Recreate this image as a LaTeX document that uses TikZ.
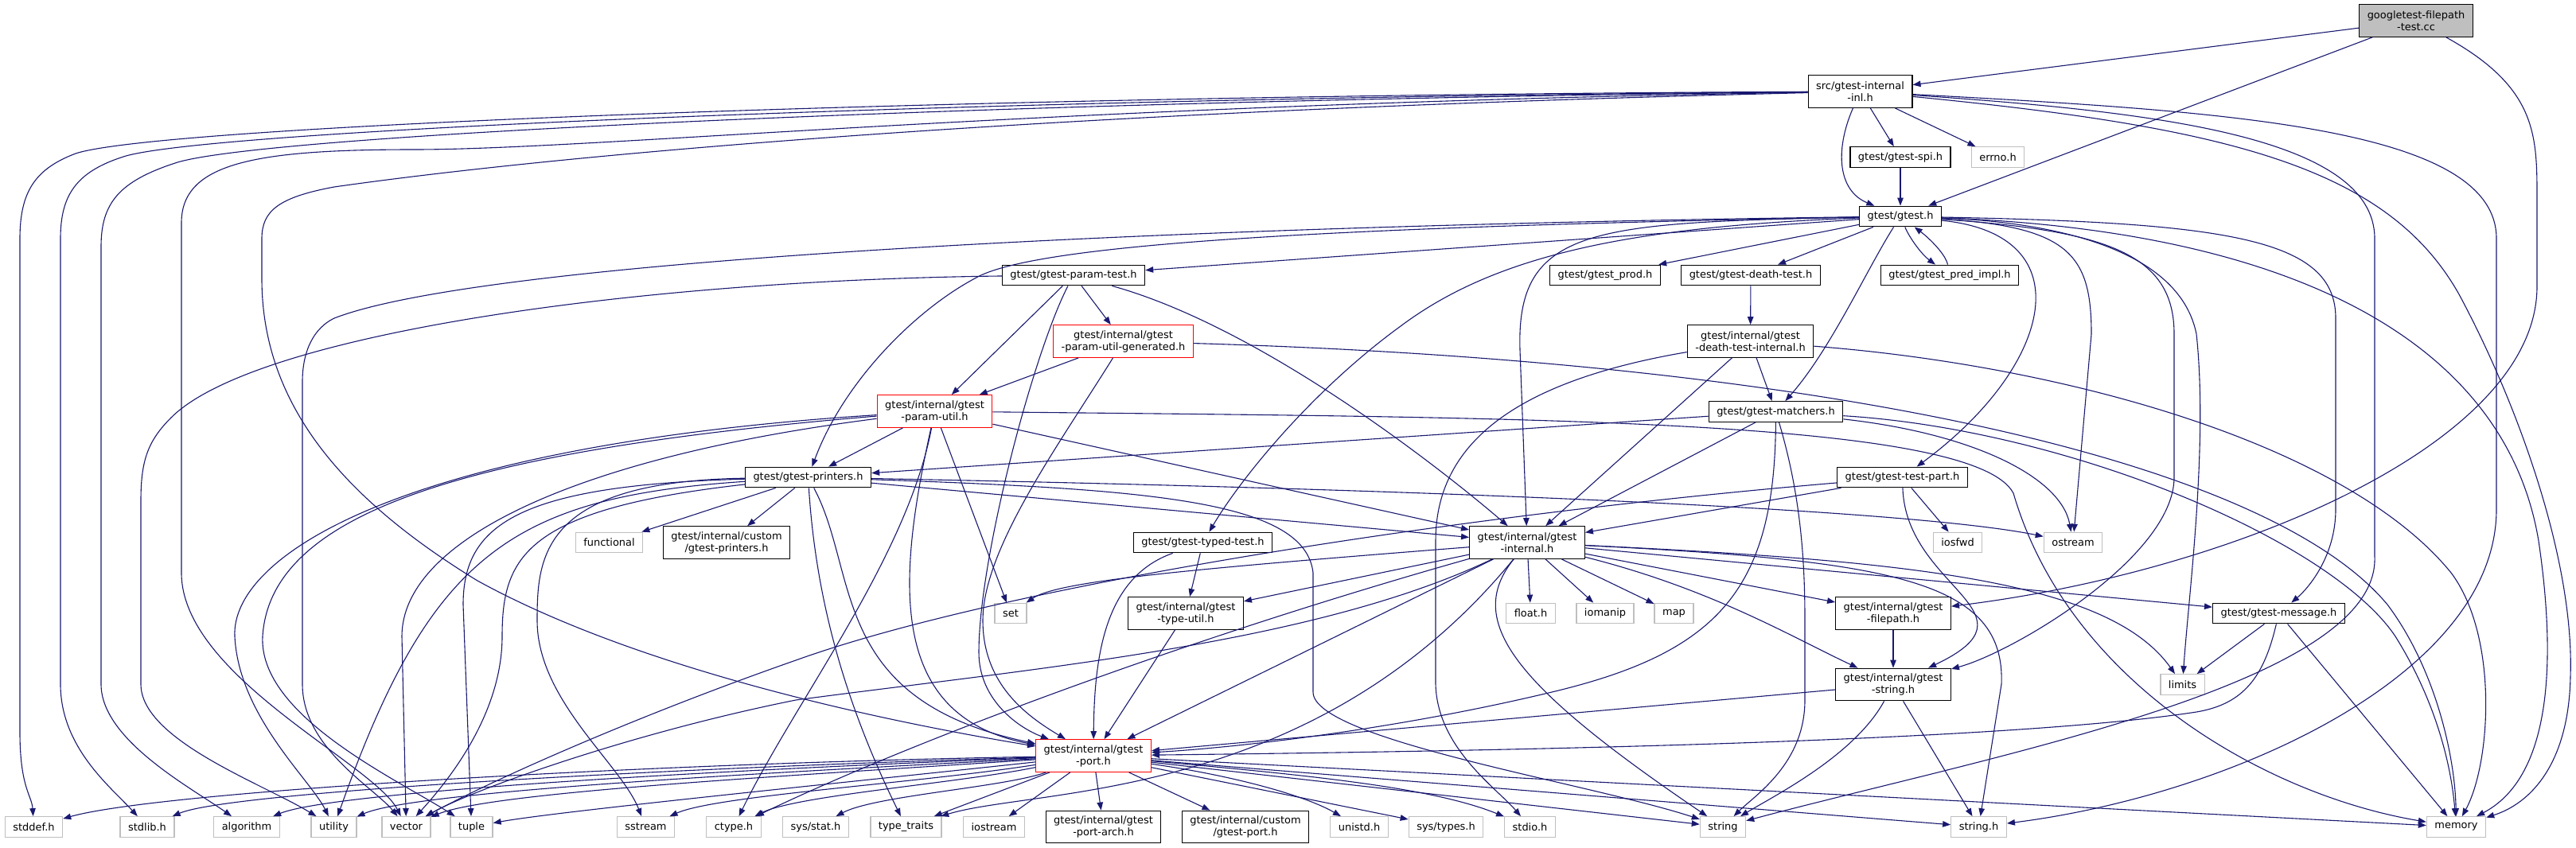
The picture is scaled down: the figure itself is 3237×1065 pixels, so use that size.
\documentclass[tikz,border=0pt]{standalone}
\usepackage{fontspec}
\setmainfont{DejaVu Sans}
\usetikzlibrary{arrows.meta}
\definecolor{edgeblue}{HTML}{191970}
\definecolor{extgray}{HTML}{BFBFBF}
\begin{document}
\begin{tikzpicture}[x=1bp,y=-1bp,
    file node/.style={draw=black,fill=white,line width=1.3bp,inner xsep=10bp,inner ysep=1bp,
                      minimum height=25.5bp,align=center,font=\fontsize{13}{15}\selectfont},
    sys node/.style={file node,draw=extgray},
    cut node/.style={file node,draw=red},
    tall/.style={minimum height=40.5bp},
    inc/.style={draw=edgeblue,line width=1.1bp,-{Triangle[length=10bp,width=7.5bp]}}]

  \useasboundingbox (0,0) rectangle (3237,1065);

  \node[file node,tall,fill=extgray] (root) at (3036,26) {googletest-filepath\\-test.cc};
  \node[file node,tall] (inl) at (2337.5,115) {src/gtest-internal\\-inl.h};
  \node[file node] (spi) at (2388,197.5) {gtest/gtest-spi.h};
  \node[sys node] (errno) at (2510.5,197.5) {errno.h};
  \node[file node] (gtest) at (2388,272) {gtest/gtest.h};
  \node[file node] (paramtest) at (1349,346) {gtest/gtest-param-test.h};
  \node[file node] (prod) at (2017,346) {gtest/gtest\_prod.h};
  \node[file node] (deathtest) at (2200,346) {gtest/gtest-death-test.h};
  \node[file node] (predimpl) at (2450,346) {gtest/gtest\_pred\_impl.h};
  \node[cut node,tall] (utilgen) at (1411.5,429) {gtest/internal/gtest\\-param-util-generated.h};
  \node[file node,tall] (dtinternal) at (2199.5,429) {gtest/internal/gtest\\-death-test-internal.h};
  \node[cut node,tall] (paramutil) at (1174.5,517) {gtest/internal/gtest\\-param-util.h};
  \node[file node] (matchers) at (2231.5,517.5) {gtest/gtest-matchers.h};
  \node[file node] (printers) at (1015.5,600) {gtest/gtest-printers.h};
  \node[file node] (testpart) at (2390.5,600) {gtest/gtest-test-part.h};
  \node[sys node] (functional) at (765.5,682) {functional};
  \node[file node,tall] (customprinters) at (913,682) {gtest/internal/custom\\/gtest-printers.h};
  \node[file node] (typedtest) at (1511.5,682) {gtest/gtest-typed-test.h};
  \node[file node,tall] (internal) at (1919,682) {gtest/internal/gtest\\-internal.h};
  \node[sys node] (iosfwd) at (2460,682) {iosfwd};
  \node[sys node] (ostream) at (2605,682) {ostream};
  \node[sys node] (set) at (1270,771) {set};
  \node[file node,tall] (typeutil) at (1490,771) {gtest/internal/gtest\\-type-util.h};
  \node[sys node] (floath) at (1923.5,771) {float.h};
  \node[sys node] (iomanip) at (2017,771) {iomanip};
  \node[sys node] (map) at (2103.5,771) {map};
  \node[file node,tall] (filepath) at (2379,771) {gtest/internal/gtest\\-filepath.h};
  \node[file node] (message) at (2863.5,771) {gtest/gtest-message.h};
  \node[file node,tall] (gstring) at (2379,860.5) {gtest/internal/gtest\\-string.h};
  \node[sys node] (limits) at (2742.5,860.5) {limits};
  \node[cut node,tall] (port) at (1374,950) {gtest/internal/gtest\\-port.h};

  \node[sys node] (stddef) at (42.5,1039.5) {stddef.h};
  \node[sys node] (stdlib) at (185,1039.5) {stdlib.h};
  \node[sys node] (algorithm) at (310,1039.5) {algorithm};
  \node[sys node] (utility) at (419.5,1039.5) {utility};
  \node[sys node] (vector) at (510.5,1039.5) {vector};
  \node[sys node] (tuple) at (592.5,1039.5) {tuple};
  \node[sys node] (sstream) at (811.5,1039.5) {sstream};
  \node[sys node] (ctypeh) at (922,1039.5) {ctype.h};
  \node[sys node] (sysstat) at (1025,1039.5) {sys/stat.h};
  \node[sys node] (typetraits) at (1138.5,1039.5) {type\_traits};
  \node[sys node] (iostream) at (1249,1039.5) {iostream};
  \node[file node,tall] (portarch) at (1386.5,1039.5) {gtest/internal/gtest\\-port-arch.h};
  \node[file node,tall] (customport) at (1565,1039.5) {gtest/internal/custom\\/gtest-port.h};
  \node[sys node] (unistd) at (1708,1039.5) {unistd.h};
  \node[sys node] (systypes) at (1817,1039.5) {sys/types.h};
  \node[sys node] (stdioh) at (1922.5,1039.5) {stdio.h};
  \node[sys node] (string) at (2165,1039.5) {string};
  \node[sys node] (stringh) at (2486.5,1039.5) {string.h};
  \node[sys node] (memory) at (3086.5,1039.5) {memory};

  % test file
  \draw[inc] (root) -- (inl);
  \draw[inc] (root) -- (gtest);
  \draw[inc] (root) .. controls (3188,110) and (3188,170) .. (3188,250) -- (3188,360)
             .. controls (3188,560) and (2800,720) .. (filepath);

  % src/gtest-internal-inl.h
  \draw[inc] (inl) .. controls (2305,190) and (2310,240) .. (gtest);
  \draw[inc] (inl) -- (spi);
  \draw[inc] (inl) -- (errno);
  \draw[inc] (inl) .. controls (1200,120) and (200,158) .. (95,193) .. controls (45,212) and (25,240) .. (25,300)
             -- (25,920) .. controls (25,990) and (40,1000) .. (stddef);
  \draw[inc] (inl) .. controls (1250,123) and (260,163) .. (155,197) .. controls (96,216) and (76,245) .. (76,300)
             -- (76,860) .. controls (76,940) and (140,990) .. (stdlib);
  \draw[inc] (inl) .. controls (1300,126) and (330,168) .. (220,205) .. controls (150,228) and (127,255) .. (127,310)
             -- (127,860) .. controls (127,930) and (240,990) .. (algorithm);
  \draw[inc] (inl) .. controls (1300,132) and (750,188) .. (520,188) .. controls (320,188) and (228,205) .. (228,280)
             -- (228,720) .. controls (228,850) and (470,960) .. (vector);
  \draw[inc] (inl) .. controls (1300,140) and (700,195) .. (420,235) .. controls (350,248) and (329,265) .. (329,300)
             -- (329,350) .. controls (329,500) and (420,620) .. (600,730) .. controls (800,840) and (1100,905) .. (port);
  \draw[inc] (inl) .. controls (2800,140) and (3137,160) .. (3137,300) -- (3137,640)
             .. controls (3137,850) and (2800,1000) .. (stringh);
  \draw[inc] (inl) .. controls (2700,140) and (2984,170) .. (2984,300) -- (2984,700)
             .. controls (2990,860) and (2500,950) .. (string);
  \draw[inc] (inl) .. controls (2800,160) and (3000,210) .. (3090,370) .. controls (3160,500) and (3235,700) .. (3230,850)
             .. controls (3228,960) and (3180,1010) .. (memory);
  \draw[inc] (spi) -- (gtest);

  % gtest/gtest.h
  \draw[inc] (gtest) -- (paramtest);
  \draw[inc] (gtest) -- (prod);
  \draw[inc] (gtest) -- (deathtest);
  \draw[inc] (gtest) .. controls (2400,300) and (2415,320) .. (predimpl);
  \draw[inc] (predimpl) .. controls (2445,320) and (2425,300) .. (gtest);
  \draw[inc] (gtest) .. controls (2345,340) and (2300,440) .. (matchers);
  \draw[inc] (gtest) .. controls (2000,280) and (1905,285) .. (1910,440) -- (internal);
  \draw[inc] (gtest) .. controls (1700,285) and (1300,305) .. (1225,350) .. controls (1150,390) and (1060,480) .. (printers);
  \draw[inc] (gtest) .. controls (2050,285) and (1880,320) .. (1760,410) .. controls (1650,490) and (1560,600) .. (typedtest);
  \draw[inc] (gtest) .. controls (1400,285) and (600,330) .. (420,400) .. controls (395,412) and (380,440) .. (380,480)
             -- (380,860) .. controls (380,940) and (470,990) .. (vector);
  \draw[inc] (gtest) .. controls (2620,295) and (2580,460) .. (testpart);
  \draw[inc] (gtest) .. controls (2600,285) and (2628,320) .. (2628,420) -- (ostream);
  \draw[inc] (gtest) .. controls (2650,290) and (2732,320) .. (2732,420) -- (2732,600)
             .. controls (2732,700) and (2530,820) .. (gstring);
  \draw[inc] (gtest) .. controls (2600,280) and (2740,320) .. (2760,420) .. controls (2775,560) and (2750,750) .. (limits);
  \draw[inc] (gtest) .. controls (2800,280) and (2935,300) .. (2935,400) -- (2935,640)
             .. controls (2935,700) and (2900,740) .. (message);
  \draw[inc] (gtest) .. controls (2900,290) and (3150,440) .. (3190,680) .. controls (3215,850) and (3200,980) .. (memory);

  % death test
  \draw[inc] (deathtest) -- (dtinternal);
  \draw[inc] (dtinternal) -- (matchers);
  \draw[inc] (dtinternal) -- (internal);
  \draw[inc] (dtinternal) .. controls (1900,480) and (1804,560) .. (1804,680) -- (1804,860)
             .. controls (1806,940) and (1880,990) .. (stdioh);
  \draw[inc] (dtinternal) .. controls (2600,460) and (2950,560) .. (3080,720) .. controls (3140,800) and (3130,960) .. (memory);

  % param test
  \draw[inc] (paramtest) -- (utilgen);
  \draw[inc] (paramtest) -- (paramutil);
  \draw[inc] (paramtest) .. controls (1580,410) and (1800,580) .. (internal);
  \draw[inc] (paramtest) .. controls (1300,440) and (1230,700) .. (1230,820) .. controls (1230,880) and (1280,915) .. (port);
  \draw[inc] (paramtest) .. controls (800,352) and (320,420) .. (215,525) .. controls (185,555) and (177,580) .. (177,630)
             -- (177,860) .. controls (177,930) and (330,985) .. (utility);
  \draw[inc] (utilgen) -- (paramutil);
  \draw[inc] (utilgen) .. controls (1330,560) and (1235,690) .. (1235,780) .. controls (1235,860) and (1290,900) .. (port);
  \draw[inc] (utilgen) .. controls (2300,455) and (2850,580) .. (3000,760) .. controls (3060,840) and (3085,950) .. (memory);

  % param util
  \draw[inc] (paramutil) -- (printers);
  \draw[inc] (paramutil) -- (internal);
  \draw[inc] (paramutil) -- (set);
  \draw[inc] (paramutil) .. controls (1140,700) and (1000,880) .. (ctypeh);
  \draw[inc] (paramutil) .. controls (1130,720) and (1110,900) .. (port);
  \draw[inc] (paramutil) .. controls (500,560) and (290,700) .. (295,800) .. controls (300,900) and (390,980) .. (utility);
  \draw[inc] (paramutil) .. controls (600,565) and (340,640) .. (330,800) .. controls (325,900) and (500,980) .. (tuple);
  \draw[inc] (paramutil) .. controls (720,575) and (505,680) .. (505,800) -- (vector);
  \draw[inc] (paramutil) .. controls (1900,525) and (2480,525) .. (2530,620) .. controls (2600,860) and (2850,1000) .. (memory);

  % matchers
  \draw[inc] (matchers) -- (printers);
  \draw[inc] (matchers) -- (internal);
  \draw[inc] (matchers) .. controls (2480,545) and (2590,600) .. (ostream);
  \draw[inc] (matchers) .. controls (2600,540) and (2930,680) .. (3010,800) .. controls (3060,880) and (3080,960) .. (memory);
  \draw[inc] (matchers) .. controls (2262,620) and (2268,700) .. (2268,780) -- (2268,880)
             .. controls (2268,960) and (2205,1000) .. (string);
  \draw[inc] (matchers) .. controls (2230,740) and (2160,820) .. (1950,870) .. controls (1750,918) and (1550,940) .. (port);

  % printers
  \draw[inc] (printers) -- (functional);
  \draw[inc] (printers) -- (customprinters);
  \draw[inc] (printers) .. controls (1800,615) and (2400,640) .. (ostream);
  \draw[inc] (printers) -- (internal);
  \draw[inc] (printers) .. controls (1450,615) and (1640,630) .. (1650,720) -- (1650,870)
             .. controls (1650,930) and (2000,985) .. (string);
  \draw[inc] (printers) .. controls (680,605) and (675,700) .. (675,780) .. controls (675,880) and (780,960) .. (sstream);
  \draw[inc] (printers) .. controls (650,610) and (582,660) .. (582,760) -- (tuple);
  \draw[inc] (printers) .. controls (640,625) and (540,700) .. (utility);
  \draw[inc] (printers) .. controls (660,640) and (631,700) .. (631,800) .. controls (631,900) and (560,985) .. (vector);
  \draw[inc] (printers) .. controls (1025,750) and (1060,880) .. (typetraits);
  \draw[inc] (printers) .. controls (1080,720) and (1040,880) .. (port);

  % test part, typed test
  \draw[inc] (testpart) -- (iosfwd);
  \draw[inc] (testpart) -- (internal);
  \draw[inc] (testpart) .. controls (2395,740) and (2570,770) .. (gstring);
  \draw[inc] (testpart) .. controls (1800,650) and (1250,740) .. (1000,830) .. controls (800,900) and (620,980) .. (vector);
  \draw[inc] (typedtest) .. controls (1390,725) and (1375,820) .. (port);
  \draw[inc] (typedtest) -- (typeutil);
  \draw[inc] (typeutil) -- (port);

  % gtest-internal.h
  \draw[inc] (internal) -- (floath);
  \draw[inc] (internal) -- (iomanip);
  \draw[inc] (internal) -- (map);
  \draw[inc] (internal) .. controls (1500,715) and (1330,730) .. (set);
  \draw[inc] (internal) -- (typeutil);
  \draw[inc] (internal) .. controls (1650,810) and (1300,840) .. (1000,880) .. controls (800,920) and (600,990) .. (vector);
  \draw[inc] (internal) .. controls (1500,800) and (1150,930) .. (ctypeh);
  \draw[inc] (internal) .. controls (1650,1010) and (1300,990) .. (typetraits);
  \draw[inc] (internal) -- (port);
  \draw[inc] (internal) .. controls (1840,780) and (1900,860) .. (string);
  \draw[inc] (internal) -- (filepath);
  \draw[inc] (internal) .. controls (2150,740) and (2250,800) .. (gstring);
  \draw[inc] (internal) -- (message);
  \draw[inc] (internal) .. controls (2400,705) and (2650,730) .. (limits);
  \draw[inc] (internal) .. controls (2380,705) and (2520,730) .. (2515,860) -- (stringh);

  % filepath, string, message
  \draw[inc] (filepath) -- (gstring);
  \draw[inc] (gstring) -- (port);
  \draw[inc] (gstring) .. controls (2330,950) and (2230,1000) .. (string);
  \draw[inc] (gstring) -- (stringh);
  \draw[inc] (message) -- (limits);
  \draw[inc] (message) -- (memory);
  \draw[inc] (message) .. controls (2845,850) and (2820,885) .. (2760,895) .. controls (2500,935) and (1800,945) .. (port);

  % gtest-port.h
  \draw[inc] (port) .. controls (800,960) and (200,995) .. (stddef);
  \draw[inc] (port) .. controls (850,965) and (290,995) .. (stdlib);
  \draw[inc] (port) .. controls (900,968) and (420,995) .. (algorithm);
  \draw[inc] (port) .. controls (950,972) and (520,995) .. (utility);
  \draw[inc] (port) .. controls (1000,975) and (620,995) .. (vector);
  \draw[inc] (port) .. controls (1050,985) and (700,1020) .. (tuple);
  \draw[inc] (port) .. controls (1150,985) and (900,1000) .. (sstream);
  \draw[inc] (port) .. controls (1200,985) and (1000,1000) .. (ctypeh);
  \draw[inc] (port) .. controls (1260,990) and (1100,1000) .. (sysstat);
  \draw[inc] (port) -- (typetraits);
  \draw[inc] (port) -- (iostream);
  \draw[inc] (port) -- (portarch);
  \draw[inc] (port) -- (customport);
  \draw[inc] (port) .. controls (1550,975) and (1640,1000) .. (unistd);
  \draw[inc] (port) -- (systypes);
  \draw[inc] (port) .. controls (1650,975) and (1800,990) .. (stdioh);
  \draw[inc] (port) -- (string);
  \draw[inc] (port) -- (stringh);
  \draw[inc] (port) -- (memory);
\end{tikzpicture}
\end{document}
